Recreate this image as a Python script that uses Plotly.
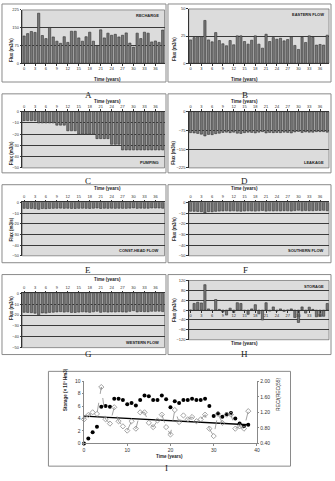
import plotly.graph_objects as go

W, H = 335, 481

years = list(range(39))
tick_years = [0, 3, 6, 9, 12, 15, 18, 21, 24, 27, 30, 33, 36]

recharge = [115, 125, 134, 130, 211, 117, 104, 151, 111, 93, 84, 112, 88, 135, 135, 107, 93, 112, 131, 93,
            75, 141, 107, 127, 118, 122, 111, 118, 128, 85, 68, 127, 104, 131, 127, 90, 94, 88, 140]
eastern = [21.5, 23.6, 24.5, 24.5, 39.4, 21.5, 19.7, 28.2, 20.9, 17.9, 16.1, 20.9, 17.0, 25.2, 25.2, 20.0, 17.6,
           21.2, 25.2, 17.6, 13.9, 26.7, 20.0, 23.6, 22.1, 23.0, 20.6, 21.8, 24.5, 16.4, 12.7, 23.9, 19.1, 25.2,
           23.9, 16.7, 17.3, 16.7, 25.8]
pumping = [-8, -8, -8, -8, -10, -10, -10, -10, -10, -12, -12, -12, -17, -17, -17, -20, -20, -20, -20, -20,
           -24, -24, -24, -24, -29, -29, -29, -34, -34, -34, -34, -34, -34, -34, -34, -34, -34, -34, -34]
leakage = [-84, -85, -87, -90, -97, -91, -92, -88, -86, -83, -82, -84, -82, -86, -87, -84, -82, -83, -85, -82,
           -80, -85, -83, -84, -83, -84, -82, -83, -85, -81, -79, -83, -81, -82, -82, -80, -80, -80, -82]
const_head = [-5.5, -5.6, -5.6, -5.8, -6.4, -5.7, -5.8, -5.6, -5.5, -5.4, -5.3, -5.5, -5.4, -5.6, -5.6, -5.5,
              -5.4, -5.5, -5.6, -5.4, -5.2, -5.6, -5.4, -5.5, -5.4, -5.5, -5.4, -5.5, -5.5, -5.3, -5.1, -5.5,
              -5.3, -5.4, -5.4, -5.2, -5.2, -5.2, -5.4]
southern = [-8.2, -8.3, -8.4, -8.7, -9.8, -8.6, -8.7, -8.3, -8.1, -7.9, -7.8, -8.0, -7.8, -8.1, -8.2, -8.0, -7.8,
            -7.9, -8.1, -7.8, -7.5, -8.1, -7.8, -7.9, -7.8, -7.9, -7.7, -7.8, -8.0, -7.6, -7.3, -7.8, -7.6, -7.7,
            -7.7, -7.5, -7.5, -7.4, -7.7]
western = [-17.5, -17.6, -17.8, -18.3, -19.8, -18.0, -18.2, -17.6, -17.4, -17.1, -16.9, -17.3, -17.0, -17.6,
           -17.6, -17.3, -17.0, -17.2, -17.5, -17.0, -16.5, -17.5, -17.0, -17.3, -17.1, -17.2, -16.9, -17.1,
           -17.3, -16.6, -16.0, -17.1, -16.7, -16.9, -16.9, -16.5, -16.5, -16.4, -16.8]
storage_flux = [0, 27, 32, 29, 103, 5, -1, 43, 3, -8, -20, 8, -10, 30, 27, -2, -17, 5, 22, -15, -40, 30, -4, 13,
                -4, 5, -5, 0, 5, -30, -50, 13, -12, 12, 3, -27, -25, -25, 27]

storage = [0.0, 0.8, 1.8, 2.7, 5.9, 6.0, 5.9, 7.2, 7.2, 7.0, 6.3, 6.5, 6.1, 7.0, 7.7, 7.6, 7.0, 7.0, 7.7, 7.1,
           5.8, 6.8, 6.5, 7.0, 7.0, 7.2, 7.0, 7.0, 7.2, 6.0, 4.4, 4.8, 4.3, 4.7, 4.9, 4.0, 3.2, 2.8, 3.0]
rec_ratio = [1.02, 1.13, 1.20, 1.16, 1.85, 1.02, 0.91, 1.33, 0.97, 0.84, 0.73, 0.97, 0.78, 1.20, 1.20, 0.93,
             0.82, 0.99, 1.14, 0.82, 0.63, 1.26, 0.95, 1.12, 1.02, 1.08, 0.97, 1.02, 1.14, 0.78, 0.59, 1.16,
             0.93, 1.14, 1.14, 0.78, 0.84, 0.78, 1.23]
trend_years = [0, 38]
trend_storage = [4.4, 3.0]

FONT = "Liberation Sans"
SERIF = "Liberation Serif"


def fx(p):
    return p / W


def fy(p):
    return 1 - p / H


def sfx(i):
    return "" if i == 1 else str(i)


panels = [
    dict(v=recharge, xd=(21.5, 165.5), yd=(7, 61), rng=[0, 225], tv=[0, 75, 150, 225], side="bottom",
         name="RECHARGE", top=True, box=(1, 167, 1, 80), letter=("A", 84, 87), tt=74),
    dict(v=eastern, xd=(190, 332), yd=(6, 61), rng=[0, 50], tv=[0, 25, 50], side="bottom",
         name="EASTERN FLOW", top=True, box=(169, 334, 1, 80), letter=("B", 251, 87), tt=74),
    dict(v=pumping, xd=(21.5, 165.5), yd=(110, 167), rng=[-50, 0], tv=[0, -10, -20, -30, -40, -50], side="top",
         name="PUMPING", top=False, box=(1, 167, 92, 172), letter=("C", 84, 180), tt=96),
    dict(v=leakage, xd=(190, 332), yd=(110, 167), rng=[-225, 0], tv=[0, -75, -150, -225], side="top",
         name="LEAKAGE", top=False, box=(169, 334, 92, 172), letter=("D", 251, 180), tt=96),
    dict(v=const_head, xd=(21.5, 165.5), yd=(202, 256), rng=[-50, 0], tv=[0, -10, -20, -30, -40, -50], side="top",
         name="CONST-HEAD FLOW", top=False, box=(1, 167, 184, 263), letter=("E", 84, 270), tt=188),
    dict(v=southern, xd=(190, 332), yd=(202, 256), rng=[-50, 0], tv=[0, -10, -20, -30, -40, -50], side="top",
         name="SOUTHERN FLOW", top=False, box=(169, 334, 184, 263), letter=("F", 251, 270), tt=188),
    dict(v=western, xd=(21.5, 165.5), yd=(294, 349), rng=[-50, 0], tv=[0, -10, -20, -30, -40, -50], side="top",
         name="WESTERN FLOW", top=False, box=(1, 167, 275, 356), letter=("G", 84, 362), tt=280),
    dict(v=storage_flux, xd=(190, 332), yd=(281, 341), rng=[-120, 120], tv=[120, 80, 40, 0, -40, -80, -120],
         side="mid", name="STORAGE", top=True, box=(169, 334, 275, 356), letter=("H", 251, 362), tt=348),
]

fig = go.Figure()
layout = dict(width=W, height=H, margin=dict(l=0, r=0, t=0, b=0), showlegend=False,
              paper_bgcolor="white", plot_bgcolor="rgba(0,0,0,0)", font=dict(family=FONT, color="#222"))
shapes = []
annotations = []

for i, p in enumerate(panels, start=1):
    s = sfx(i)
    xa, ya = f"xaxis{s}", f"yaxis{s}"
    fig.add_trace(go.Bar(x=years, y=p["v"], xaxis=f"x{s}", yaxis=f"y{s}", width=0.62,
                         marker=dict(color="#787878", line=dict(color="#303030", width=0.6))))
    x0, x1 = p["xd"]
    y0, y1 = p["yd"]
    xax = dict(domain=[fx(x0), fx(x1)], range=[-0.5, 38.5], tickvals=tick_years, ticks="outside", ticklen=1.5,
               tickwidth=0.6, tickcolor="#333", showline=True, linecolor="#333", linewidth=0.8, showgrid=False,
               zeroline=False, tickfont=dict(size=4, color="#333"), anchor=f"y{s}", fixedrange=True)
    if p["side"] == "top":
        xax["side"] = "top"
    elif p["side"] == "mid":
        xax["anchor"] = "free"
        zero_px = y0 + (y1 - y0) * (p["rng"][1] - 0) / (p["rng"][1] - p["rng"][0])
        xax["position"] = fy(zero_px)
    layout[xa] = xax
    layout[ya] = dict(domain=[fy(y1), fy(y0)], range=p["rng"], tickvals=p["tv"], ticks="outside", ticklen=1.5,
                      tickwidth=0.6, tickcolor="#333", showline=True, linecolor="#333", linewidth=0.8,
                      showgrid=True, gridcolor="#3a3a3a", gridwidth=0.7, zeroline=False,
                      tickfont=dict(size=4, color="#333"), anchor=f"x{s}", fixedrange=True)
    shapes.append(dict(type="rect", xref=f"x{s} domain", yref=f"y{s} domain", x0=0, x1=1, y0=0, y1=1,
                       fillcolor="#dcdcdc", line=dict(color="#555", width=0.6), layer="below"))
    bx0, bx1, by0, by1 = p["box"]
    shapes.append(dict(type="rect", xref="paper", yref="paper", x0=fx(bx0), x1=fx(bx1), y0=fy(by1), y1=fy(by0),
                       line=dict(color="#8a8a8a", width=1), fillcolor="rgba(0,0,0,0)", layer="below"))
    annotations.append(dict(xref=f"x{s} domain", yref=f"y{s} domain", x=0.97, y=0.9 if p["top"] else 0.1,
                            xanchor="right", yanchor="middle", showarrow=False, text=f"<b>{p['name']}</b>",
                            borderpad=0, font=dict(size=4, color="#222")))
    annotations.append(dict(xref="paper", yref="paper", x=fx((x0 + x1) / 2), y=fy(p["tt"]), showarrow=False,
                            text="<b>Time (years)</b>", borderpad=0, font=dict(size=4.5, color="#222")))
    annotations.append(dict(xref="paper", yref="paper", x=fx(bx0 + 6), y=fy((y0 + y1) / 2), showarrow=False,
                            text="<b>Flux (m3/s)</b>", textangle=-90, borderpad=0,
                            font=dict(size=4.5, color="#222")))
    letter, lx, ly = p["letter"]
    annotations.append(dict(xref="paper", yref="paper", x=fx(lx), y=fy(ly), showarrow=False, text=letter,
                            borderpad=0, font=dict(size=9, family=SERIF, color="#222")))

# Panel I
fig.add_trace(go.Scatter(x=years, y=storage, xaxis="x9", yaxis="y9", mode="markers", cliponaxis=False,
                         marker=dict(color="black", size=4)))
fig.add_trace(go.Scatter(x=trend_years, y=trend_storage, xaxis="x9", yaxis="y9", mode="lines",
                         line=dict(color="black", width=1.3)))
fig.add_trace(go.Scatter(x=years, y=rec_ratio, xaxis="x9", yaxis="y10", mode="lines+markers", cliponaxis=False,
                         line=dict(color="#8c8c8c", width=0.8, dash="dash"),
                         marker=dict(symbol="diamond-open", color="#8c8c8c", size=4, line=dict(width=0.8))))
layout["xaxis9"] = dict(domain=[fx(84), fx(259)], range=[0, 40], tickvals=[0, 10, 20, 30, 40], ticks="outside",
                        ticklen=1.5, tickcolor="#888", showline=True, linecolor="#888", linewidth=0.7,
                        showgrid=False, zeroline=False, tickfont=dict(size=5, color="#333"), anchor="y9",
                        fixedrange=True)
layout["yaxis9"] = dict(domain=[fy(446), fy(383)], range=[0, 10], tickvals=[0, 2, 4, 6, 8, 10], ticks="outside",
                        ticklen=1.5, tickcolor="#888", showline=True, linecolor="#888", linewidth=0.7,
                        showgrid=False, zeroline=False, tickfont=dict(size=5, color="#333"), anchor="x9",
                        fixedrange=True)
layout["yaxis10"] = dict(domain=[fy(446), fy(383)], range=[0.4, 2.0], tickvals=[0.4, 0.8, 1.2, 1.6, 2.0],
                         ticktext=["0.40", "0.80", "1.20", "1.60", "2.00"], ticks="outside", ticklen=1.5,
                         tickcolor="#888", showline=True, linecolor="#888", linewidth=0.7, showgrid=False,
                         zeroline=False, tickfont=dict(size=5, color="#333"), anchor="x9", overlaying="y9",
                         side="right", fixedrange=True)
shapes.append(dict(type="rect", xref="paper", yref="paper", x0=fx(48), x1=fx(293), y0=fy(469), y1=fy(373),
                   line=dict(color="#8a8a8a", width=1), fillcolor="rgba(0,0,0,0)", layer="below"))
annotations += [
    dict(xref="paper", yref="paper", x=fx(171), y=fy(463), showarrow=False, text="<b>Time (years)</b>",
         borderpad=0, font=dict(size=4.5, color="#222")),
    dict(xref="paper", yref="paper", x=fx(62), y=fy(414), showarrow=False, text="<b>Storage (× 10³ Hm3)</b>",
         textangle=-90, borderpad=0, font=dict(size=4.5, color="#222")),
    dict(xref="paper", yref="paper", x=fx(285), y=fy(414), showarrow=False, text="REC/(REC(55)",
         textangle=-90, borderpad=0, font=dict(size=5, color="#222")),
    dict(xref="paper", yref="paper", x=fx(168), y=fy(477), showarrow=False, text="I",
         borderpad=0, font=dict(size=9, family=SERIF, color="#222")),
]

layout["shapes"] = shapes
layout["annotations"] = annotations
fig.update_layout(**layout)
fig.write_html("out.html")
